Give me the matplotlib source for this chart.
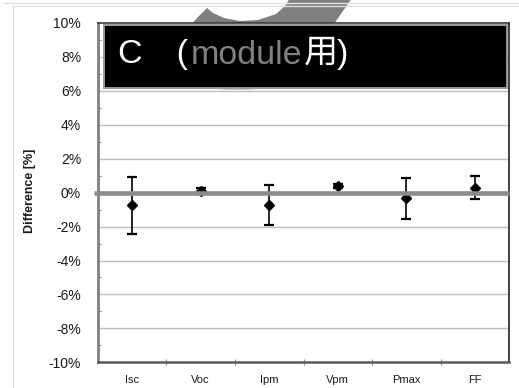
import matplotlib
matplotlib.use("Agg")
import matplotlib.pyplot as plt
from matplotlib.patches import Polygon, Rectangle, Ellipse
from matplotlib.lines import Line2D
from matplotlib.ticker import FixedLocator
import numpy as np

# Measured differences with their uncertainty (percent)
categories = ["Isc", "Voc", "Ipm", "Vpm", "Pmax", "FF"]
difference = [-0.75, 0.09, -0.73, 0.40, -0.34, 0.29]
uncertainty = [1.67, 0.17, 1.20, 0.12, 1.20, 0.69]
y_ticks = [-10, -8, -6, -4, -2, 0, 2, 4, 6, 8, 10]
y_tick_labels = [f"{v}%" for v in y_ticks]
title_parts = ["C\u3000(", "module", "用)"]
title_colors = ["white", "#808080", "white"]
y_label = "Difference [%]"

W, H = 519, 388
fig = plt.figure(figsize=(W / 100, H / 100), dpi=100)
plt.rcParams["font.family"] = ["Liberation Sans", "Noto Sans CJK JP", "DejaVu Sans"]


def fx(x):
    return x / W


def fy(y):
    return 1 - y / H


# outer chart border
fig.add_artist(Line2D([fx(4), 1], [fy(2.5), fy(2.5)], color="#e2e2e2", lw=1.0))
fig.add_artist(Line2D([fx(12.5), 1], [fy(6), fy(6)], color="#dcdcdc", lw=1.0))
fig.add_artist(Line2D([fx(12.5), fx(12.5)], [fy(6), 0], color="#dcdcdc", lw=1.0))

# grey crescent decoration behind the chart
outer = [(207, 8), (198, 17), (190, 26), (185, 40), (184, 52), (188, 66),
         (196, 76), (210, 85), (238, 90), (265, 86), (292, 74), (305, 62),
         (313, 50), (325, 38), (334, 24), (343, 11), (352, -2)]
inner = [(290, -2), (285, 6), (276, 14), (258, 20), (240, 21), (224, 18),
         (213, 13)]
crescent_pts = [(fx(x), fy(y)) for x, y in outer + inner]
fig.add_artist(Polygon(crescent_pts, closed=True, transform=fig.transFigure,
                       facecolor="#7f7f7f", edgecolor="none", zorder=-1))

ax = fig.add_axes([fx(97.7), fy(362.3), (509.3 - 97.7) / W, (362.3 - 23) / H])
x = np.arange(len(categories))
ax.set_xlim(-0.5, len(categories) - 0.5)
ax.set_ylim(-10, 10)

ax.yaxis.set_major_locator(FixedLocator(y_ticks))
ax.set_yticklabels(y_tick_labels)
ax.yaxis.set_minor_locator(FixedLocator(np.arange(-9, 10, 2)))
ax.tick_params(axis="y", which="major", length=0, pad=12, labelsize=10,
               labelcolor="#1a1a1a")
ax.tick_params(axis="y", which="minor", direction="in", length=2.2,
               width=0.8, color="#808080")

ax.set_xticks(x)
ax.set_xticklabels(categories)
ax.xaxis.set_minor_locator(FixedLocator(x[:-1] + 0.5))
ax.tick_params(axis="x", which="major", length=0, pad=9.5, labelsize=8,
               labelcolor="#1a1a1a")
ax.tick_params(axis="x", which="minor", direction="inout", length=5,
               width=0.8, color="#909090")

for v in y_ticks[1:-1]:
    ax.axhline(v, color="#bebebe", lw=1.0, zorder=1)

ax.spines["left"].set_color("#7f7f7f")
ax.spines["left"].set_linewidth(2.0)
ax.spines["bottom"].set_color("#5a5a5a")
ax.spines["bottom"].set_linewidth(1.8)
ax.spines["top"].set_color("#3a3a3a")
ax.spines["top"].set_linewidth(1.2)
ax.spines["right"].set_color("#202020")
ax.spines["right"].set_linewidth(1.2)

ax.errorbar(x, difference, yerr=uncertainty, fmt="D", color="black",
            markersize=5.2, elinewidth=1.2, capsize=3.3, capthick=1.6,
            zorder=3)

# zero reference line, drawn over the markers
ax.plot([-0.55, len(categories) - 0.5], [0, 0], color="#8c8c8c", lw=3.3,
        solid_capstyle="butt", clip_on=False, zorder=4)

# shaded edge of the crescent peeking below the title box
fig.add_artist(Ellipse((fx(237), fy(88)), 46 / W, 4 / H,
                       transform=fig.transFigure, facecolor="#5a5a5a",
                       edgecolor="none", alpha=0.35, zorder=1.5))

# black title box
fig.add_artist(Rectangle((fx(103.5), fy(88)), (506.5 - 103.5) / W,
                         (88 - 24.5) / H, transform=fig.transFigure,
                         facecolor="black", edgecolor="#9a9a9a", lw=1.4,
                         zorder=2))

# title written piece by piece so the middle word can be shaded
renderer = fig.canvas.get_renderer()
x_pos = fx(118)
gaps = [3, 1, 0]
for part, colour, gap in zip(title_parts, title_colors, gaps):
    t = fig.text(x_pos, fy(63.5), part, color=colour, fontsize=24.5,
                 ha="left", va="baseline", zorder=3)
    bb = t.get_window_extent(renderer)
    x_pos = fig.transFigure.inverted().transform((bb.x1 + gap, bb.y0))[0]

fig.text(fx(30), fy(191), y_label, rotation=90, fontsize=9,
         fontweight="bold", ha="center", va="center", color="#1a1a1a")

fig.savefig("out.png", dpi=100)
